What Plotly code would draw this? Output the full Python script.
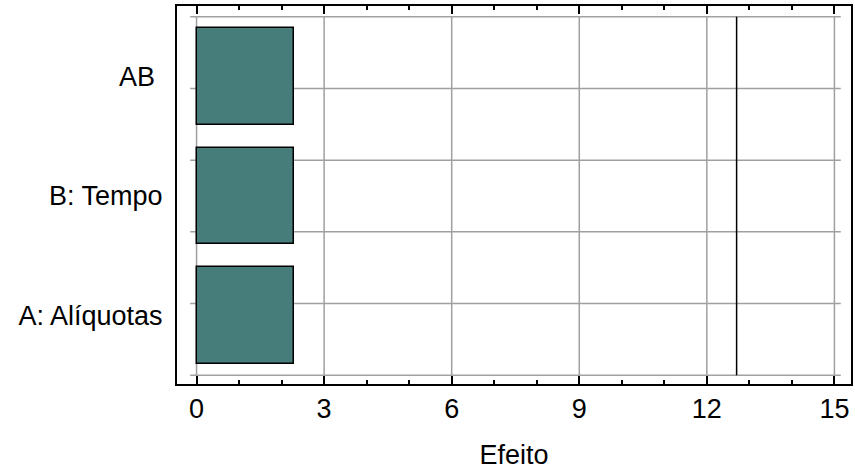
import numpy as np
import plotly.graph_objects as go

# Pareto chart of standardized effects
factors = ["A: Alíquotas", "B: Tempo", "AB\u00a0"]
effects = [2.29, 2.29, 2.29]
critical_value = 12.7
x_ticks = [0, 3, 6, 9, 12, 15]

positions = list(range(len(factors)))
y_lo, y_hi = -0.5, len(factors) - 0.5
h_grid = np.linspace(y_lo, y_hi, 6)

bar_color = "rgb(70,125,122)"
grid_color = "rgb(160,160,160)"
font_family = "Liberation Sans, Arial, sans-serif"
font_size = 27

fig = go.Figure()

fig.add_trace(go.Bar(
    x=effects,
    y=positions,
    orientation="h",
    width=0.81,
    marker=dict(color=bar_color, line=dict(color="black", width=1.5)),
    hoverinfo="x+y",
    showlegend=False,
))

# reference line for the critical effect
fig.add_trace(go.Scatter(
    x=[critical_value, critical_value],
    y=[y_lo, y_hi],
    mode="lines",
    line=dict(color="black", width=1.5),
    showlegend=False,
    hoverinfo="skip",
))

# inner grid, drawn beneath the bars
shapes = []
for xv in x_ticks:
    shapes.append(dict(type="line", xref="x", yref="y", x0=xv, x1=xv,
                       y0=y_lo, y1=y_hi, layer="below",
                       line=dict(color=grid_color, width=1.5)))
for yv in h_grid:
    shapes.append(dict(type="line", xref="x", yref="y", x0=-0.15, x1=15.15,
                       y0=yv, y1=yv, layer="below",
                       line=dict(color=grid_color, width=1.5)))

fig.update_layout(
    width=855,
    height=473,
    margin=dict(l=177, r=2, t=6, b=89),
    paper_bgcolor="white",
    plot_bgcolor="white",
    font=dict(family=font_family, size=font_size, color="black"),
    shapes=shapes,
    bargap=0,
)

fig.update_xaxes(
    range=[-0.46, 15.39],
    tickvals=x_ticks,
    ticks="inside",
    ticklen=8,
    tickwidth=2,
    tickcolor="black",
    minor=dict(ticks="inside", dtick=1, ticklen=4, tickwidth=1.5, tickcolor="black"),
    showline=True,
    linewidth=2,
    linecolor="black",
    mirror="allticks",
    showgrid=False,
    zeroline=False,
    tickfont=dict(size=font_size),
    title=dict(text="Efeito", font=dict(size=font_size), standoff=22),
)

fig.update_yaxes(
    range=[-0.573, 2.59],
    tickvals=positions,
    ticktext=factors,
    ticks="",
    ticklabelstandoff=7,
    showline=True,
    linewidth=2,
    linecolor="black",
    mirror=True,
    showgrid=False,
    zeroline=False,
    tickfont=dict(size=font_size),
)

fig.write_html("out.html")
